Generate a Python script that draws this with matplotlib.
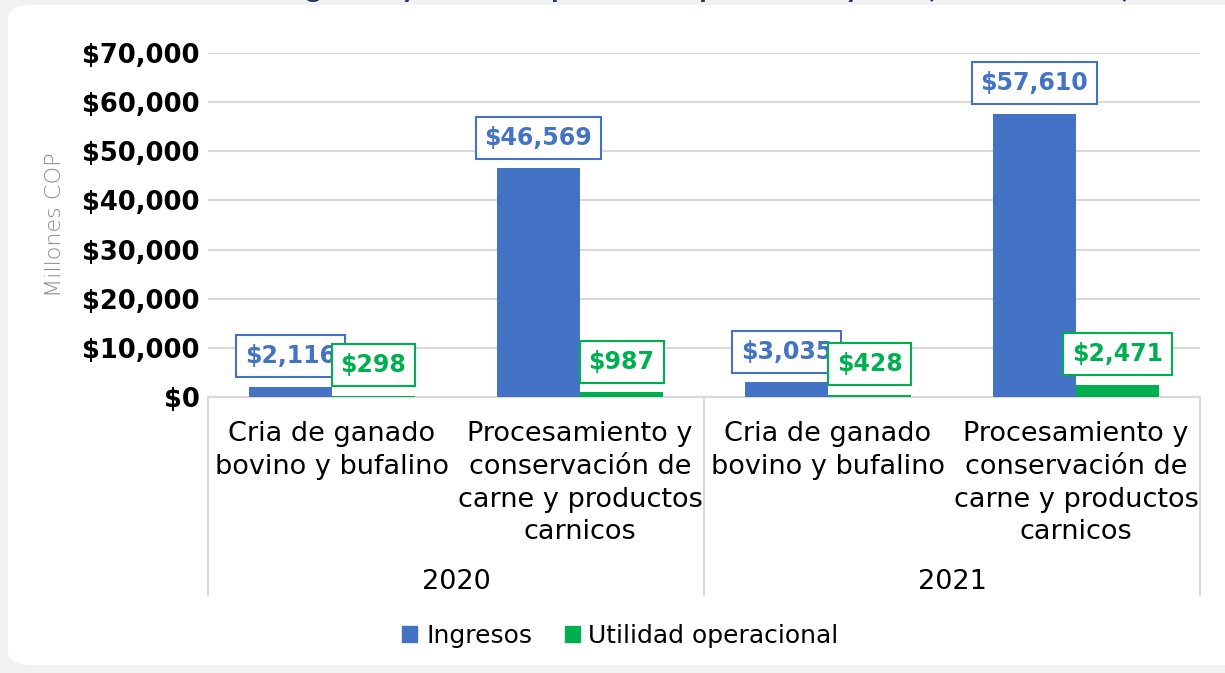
import numpy as np
import matplotlib.pyplot as plt
from matplotlib.patches import FancyBboxPatch, Patch

# data
years = ["2020", "2021"]
categorias = ["Cria de ganado\nbovino y bufalino",
              "Procesamiento y\nconservación de\ncarne y productos\ncarnicos"] * 2
ingresos = [2116, 46569, 3035, 57610]
utilidad = [298, 987, 428, 2471]
yticks = [0, 10000, 20000, 30000, 40000, 50000, 60000, 70000]

blue = "#4472C4"
green = "#00B050"
grid = "#D9D9D9"
font = "Lato"
wide = "DejaVu Sans"

fig = plt.figure(figsize=(12.25, 6.73), dpi=100, facecolor="#F2F2F2")

# white rounded panel
panel = FancyBboxPatch((8 / 1225, 8 / 673), 1.2, 660 / 673,
                       boxstyle="round,pad=0,rounding_size=0.02",
                       transform=fig.transFigure, facecolor="white",
                       edgecolor="none", zorder=-5)
fig.patches.append(panel)

# title, mostly cut off at the top
fig.text(0.575, 1.005, "Ingresos y utilidad operacional por sector y año (Millones COP)",
         ha="center", va="baseline", fontsize=22, fontweight="bold",
         color="#1F3864", family=font)

ax = fig.add_axes([208 / 1225, 1 - 397 / 673, (1200 - 208) / 1225, 344 / 673])
ax.set_zorder(2)
ax.set_facecolor("white")

x = np.arange(len(ingresos))
w = 0.335
b1 = ax.bar(x - w / 2, ingresos, w, color=blue, zorder=3, label="Ingresos")
b2 = ax.bar(x + w / 2, utilidad, w, color=green, zorder=3, label="Utilidad operacional")

ax.set_xlim(-0.5, len(ingresos) - 0.5)
ax.set_ylim(0, 70000)
ax.set_yticks(yticks)
ax.set_yticklabels(["${:,}".format(v) for v in yticks], fontsize=18.5,
                   fontweight="bold", family=wide)
ax.yaxis.grid(True, color=grid, linewidth=1.5, zorder=0)
ax.tick_params(axis="y", length=0, pad=6)
ax.set_xticks([])
for s in ["top", "right", "left"]:
    ax.spines[s].set_visible(False)
ax.spines["bottom"].set_color(grid)
ax.spines["bottom"].set_linewidth(1.5)

ax.set_ylabel("Millones COP", fontsize=16, color="#8C8C8C", family=wide,
              fontweight="light", labelpad=12)

# data labels
for bars, vals, col in [(b1, ingresos, blue), (b2, utilidad, green)]:
    for r, v in zip(bars, vals):
        ax.annotate("${:,}".format(v), (r.get_x() + r.get_width() / 2, v),
                    xytext=(0, 22), textcoords="offset points",
                    ha="center", va="center", fontsize=17, fontweight="bold",
                    color=col, family=wide, zorder=5,
                    bbox=dict(boxstyle="square,pad=0.38", fc="white", ec=col, lw=1.5))

# multi-level category axis
depth = -(595 - 397) / 344
for xf in [0, 0.5, 1]:
    ax.plot([xf, xf], [0, depth], transform=ax.transAxes, color=grid,
            lw=1.5, clip_on=False)
for i, c in enumerate(categorias):
    ax.text(i, -(421 - 397) / 344 * 70000, c, ha="center", va="top",
            fontsize=19.5, family=wide, linespacing=1.34)
for j, y in enumerate(years):
    ax.text(0.25 + 0.5 * j, -(582 - 397) / 344, y, transform=ax.transAxes,
            ha="center", va="center", fontsize=19.5, family=wide)

handles = [Patch(color=blue, label="Ingresos"),
           Patch(color=green, label="Utilidad operacional")]
fig.legend(handles=handles, loc="center", bbox_to_anchor=(0.5065, 0.055), ncol=2,
           frameon=False, prop={"family": wide, "size": 18},
           handlelength=0.6, handleheight=0.6, handletextpad=0.35, columnspacing=1.3)

fig.savefig("out.png", dpi=100, facecolor=fig.get_facecolor())
